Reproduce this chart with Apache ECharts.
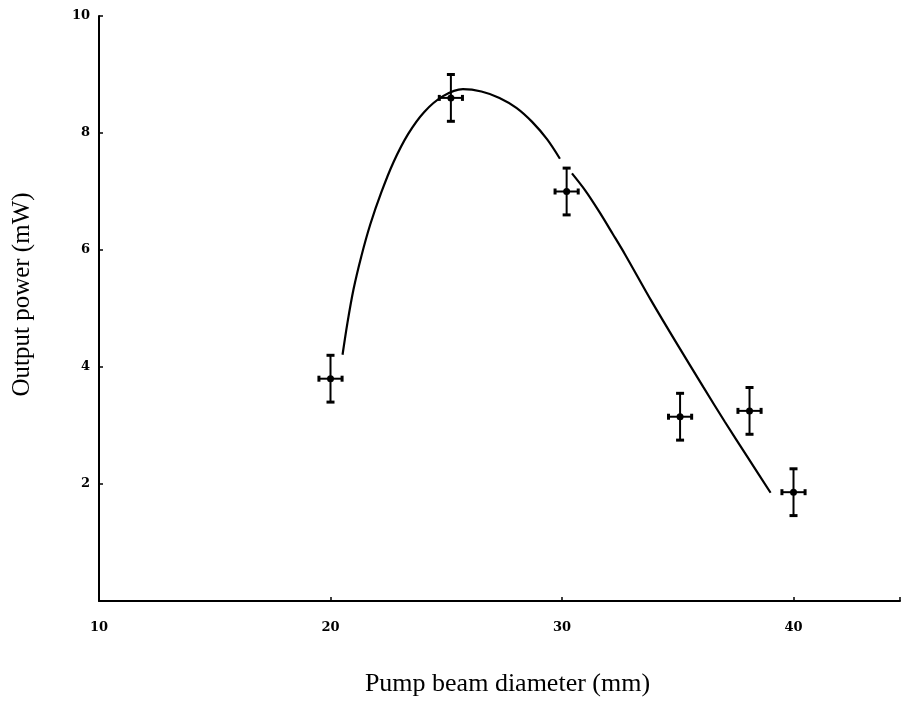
<!DOCTYPE html>
<html>
<head>
<meta charset="utf-8">
<script src="https://cdn.jsdelivr.net/npm/echarts@6/dist/echarts.min.js"></script>
<style>
  html, body { margin: 0; padding: 0; background: #fff; }
  #chart { width: 903px; height: 702px; }
</style>
</head>
<body>
<div id="chart"></div>
<script>
// measured points
var diameter = [20.0, 25.2, 30.2, 35.1, 38.1, 40.0];
var power = [3.8, 8.6, 7.0, 3.15, 3.25, 1.86];
var diameterErr = [0.5, 0.5, 0.5, 0.5, 0.5, 0.5];
var powerErr = [0.4, 0.4, 0.4, 0.4, 0.4, 0.4];

var curveX = [20.52, 20.73, 20.99, 21.33, 21.72, 22.19, 22.72, 23.35, 24.05, 24.86, 25.72, 26.52,
              27.30, 28.03, 28.71, 29.36, 29.91, 30.2,
              30.43, 31.0, 31.6, 32.2, 32.73, 33.86, 35.02, 36.1, 37.04, 38.03, 39.01];
var curveY = [4.21, 4.75, 5.32, 5.89, 6.44, 6.98, 7.50, 7.98, 8.36, 8.63, 8.75, 8.71,
              8.60, 8.43, 8.19, 7.89, 7.56, null,
              7.31, 7.02, 6.66, 6.27, 5.92, 5.13, 4.36, 3.66, 3.06, 2.45, 1.85];

var xTicks = [10, 20, 30, 40];
var yTicks = [2, 4, 6, 8, 10];

var chart = echarts.init(document.getElementById('chart'));

var points = diameter.map(function (d, i) {
    return [d, power[i], diameterErr[i], powerErr[i]];
});
var curve = curveX.map(function (x, i) {
    return curveY[i] === null ? [x, '-'] : [x, curveY[i]];
});

// cross-shaped error bars with little end caps
function renderErr(params, api) {
    var x = api.value(0), y = api.value(1), dx = api.value(2), dy = api.value(3);
    var c = api.coord([x, y]);
    var top = api.coord([x, y + dy]);
    var bot = api.coord([x, y - dy]);
    var left = api.coord([x - dx, y]);
    var right = api.coord([x + dx, y]);
    var st = { stroke: '#000', lineWidth: 2 };
    var cap = { stroke: '#000', lineWidth: 3 };
    return {
        type: 'group',
        children: [
            { type: 'line', shape: { x1: top[0], y1: top[1], x2: bot[0], y2: bot[1] }, style: st },
            { type: 'line', shape: { x1: left[0], y1: left[1], x2: right[0], y2: right[1] }, style: st },
            { type: 'line', shape: { x1: top[0] - 4, y1: top[1], x2: top[0] + 4, y2: top[1] }, style: cap },
            { type: 'line', shape: { x1: bot[0] - 4, y1: bot[1], x2: bot[0] + 4, y2: bot[1] }, style: cap },
            { type: 'line', shape: { x1: left[0], y1: left[1] - 3, x2: left[0], y2: left[1] + 3 }, style: cap },
            { type: 'line', shape: { x1: right[0], y1: right[1] - 3, x2: right[0], y2: right[1] + 3 }, style: cap },
            { type: 'circle', shape: { cx: c[0], cy: c[1], r: 3.5 }, style: { fill: '#000' } }
        ]
    };
}

chart.setOption({
    animation: false,
    backgroundColor: '#fff',
    grid: { left: 99, right: 0, top: 16, bottom: 98 },
    xAxis: {
        type: 'value',
        min: 10,
        max: 44.6,
        interval: 10,
        name: 'Pump beam diameter (mm)',
        nameLocation: 'middle',
        nameGap: 70,
        nameTextStyle: { fontFamily: 'Liberation Serif', fontSize: 26, color: '#000', padding: [0, 0, 0, 16] },
        axisLine: { lineStyle: { color: '#000', width: 2 } },
        axisTick: { inside: true, length: 4, lineStyle: { color: '#000', width: 1.5 } },
        axisLabel: {
            margin: 20,
            fontFamily: 'DejaVu Serif',
            fontWeight: 'bold',
            fontSize: 13,
            color: '#000',
            formatter: function (v) { return xTicks.indexOf(v) >= 0 ? String(v) : ''; }
        },
        splitLine: { show: false }
    },
    yAxis: {
        type: 'value',
        min: 0,
        max: 10,
        interval: 2,
        name: 'Output power (mW)',
        nameLocation: 'middle',
        nameGap: 64,
        nameTextStyle: { fontFamily: 'Liberation Serif', fontSize: 25, color: '#000', padding: [0, 0, 0, 28] },
        axisLine: { lineStyle: { color: '#000', width: 2 } },
        axisTick: { inside: true, length: 4, lineStyle: { color: '#000', width: 1.5 } },
        axisLabel: {
            margin: 9,
            fontFamily: 'DejaVu Serif',
            fontWeight: 'bold',
            fontSize: 13,
            color: '#000',
            formatter: function (v) { return yTicks.indexOf(v) >= 0 ? String(v) : ''; }
        },
        splitLine: { show: false }
    },
    series: [
        {
            type: 'line',
            data: curve,
            smooth: 0.3,
            connectNulls: false,
            showSymbol: false,
            lineStyle: { color: '#000', width: 2.2 }
        },
        {
            type: 'custom',
            data: points,
            renderItem: renderErr,
            encode: { x: 0, y: 1 },
            z: 3
        }
    ]
});
</script>
</body>
</html>
